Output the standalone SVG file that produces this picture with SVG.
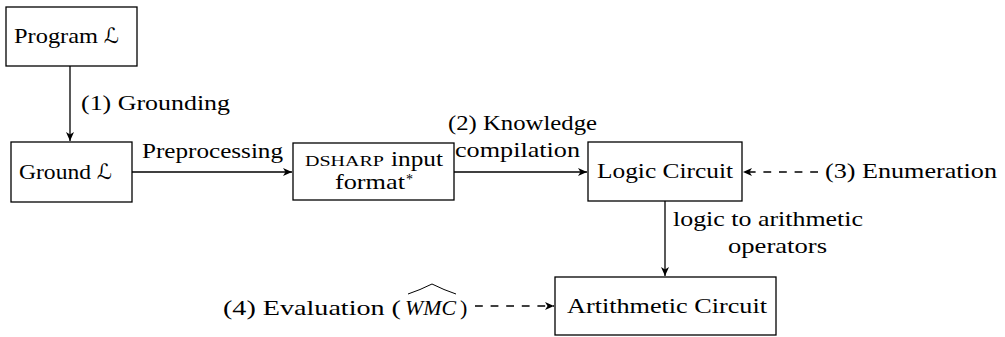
<svg xmlns="http://www.w3.org/2000/svg" width="1005" height="337" viewBox="0 0 1005 337">
  <style>
    .box { fill: #fff; stroke: #000; stroke-width: 1.3; }
    .edge { fill: none; stroke: #000; stroke-width: 1.3; }
    .dash { stroke-dasharray: 7.8 7.8; }
    text { font-family: "Liberation Serif", "DejaVu Serif", serif; font-size: 22px; fill: #000; }
    .scr { font-family: "DejaVu Sans", "DejaVu Serif", serif; font-style: italic; font-size: 21px; }
    .sc { font-size: 15.5px; }
  </style>
  <defs>
    <marker id="stealth" viewBox="-10 -5 12 10" markerWidth="12" markerHeight="10" refX="0" refY="0" orient="auto" markerUnits="userSpaceOnUse">
      <path d="M0,0 L-9,-4 L-6.5,0 L-9,4 Z" fill="#000"/>
    </marker>
  </defs>

  <!-- connectors -->
  <g id="connectors">
    <line class="edge" x1="70" y1="66" x2="70" y2="141" marker-end="url(#stealth)"/>
    <line class="edge" x1="132" y1="172" x2="292" y2="172" marker-end="url(#stealth)"/>
    <line class="edge" x1="454" y1="172" x2="587" y2="172" marker-end="url(#stealth)"/>
    <line class="edge dash" x1="818" y1="172" x2="743" y2="172" marker-end="url(#stealth)"/>
    <line class="edge" x1="665" y1="201" x2="665" y2="276" marker-end="url(#stealth)"/>
    <line class="edge dash" x1="475" y1="306" x2="554" y2="306" marker-end="url(#stealth)"/>
  </g>

  <!-- edge labels -->
  <g id="labels">
    <text x="81" y="110" textLength="149" lengthAdjust="spacingAndGlyphs">(1) Grounding</text>
    <text x="142" y="158" textLength="141" lengthAdjust="spacingAndGlyphs">Preprocessing</text>
    <text x="448" y="130" textLength="149" lengthAdjust="spacingAndGlyphs">(2) Knowledge</text>
    <text x="455" y="157" textLength="125" lengthAdjust="spacingAndGlyphs">compilation</text>
    <text x="825" y="178" textLength="172" lengthAdjust="spacingAndGlyphs">(3) Enumeration</text>
    <text x="673" y="226" textLength="190" lengthAdjust="spacingAndGlyphs">logic to arithmetic</text>
    <text x="728" y="253" textLength="99" lengthAdjust="spacingAndGlyphs">operators</text>
    <g id="evaluation">
      <text x="223" y="315" textLength="178" lengthAdjust="spacingAndGlyphs">(4) Evaluation (</text>
      <text x="405" y="315" font-style="italic" textLength="51" lengthAdjust="spacingAndGlyphs">WMC</text>
      <text x="460" y="315">)</text>
      <!-- wide hat over WMC -->
      <path d="M408,294 Q420,290 432,284 Q444,290 456,294" fill="none" stroke="#000" stroke-width="1"/>
    </g>
  </g>

  <!-- nodes -->
  <g id="program">
    <rect class="box" x="6" y="7" width="131" height="59"/>
    <text x="14" y="43" textLength="84" lengthAdjust="spacingAndGlyphs">Program</text>
    <text class="scr" x="104" y="43">ℒ</text>
  </g>
  <g id="ground">
    <rect class="box" x="11" y="142" width="121" height="60"/>
    <text x="19" y="179" textLength="72" lengthAdjust="spacingAndGlyphs">Ground</text>
    <text class="scr" x="97" y="179">ℒ</text>
  </g>
  <g id="dsharp">
    <rect class="box" x="293" y="143" width="161" height="57"/>
    <text class="sc" x="305" y="166" textLength="79" lengthAdjust="spacingAndGlyphs">DSHARP</text>
    <text x="391" y="166" textLength="52" lengthAdjust="spacingAndGlyphs">input</text>
    <text x="335" y="189"><tspan textLength="70" lengthAdjust="spacingAndGlyphs">format</tspan><tspan x="406" y="184" font-size="14">*</tspan></text>
  </g>
  <g id="logic">
    <rect class="box" x="588" y="142" width="154" height="59"/>
    <text x="597" y="178" textLength="136" lengthAdjust="spacingAndGlyphs">Logic Circuit</text>
  </g>
  <g id="arith">
    <rect class="box" x="555" y="277" width="221" height="58"/>
    <text x="567" y="313" textLength="200" lengthAdjust="spacingAndGlyphs">Artithmetic Circuit</text>
  </g>
</svg>
